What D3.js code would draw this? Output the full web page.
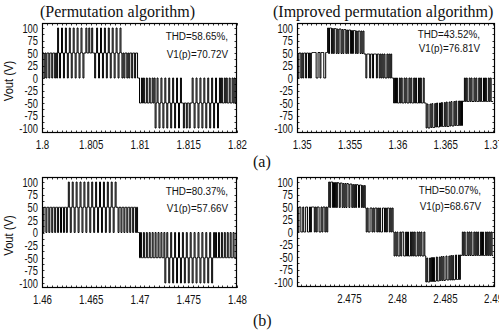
<!DOCTYPE html>
<html><head><meta charset="utf-8">
<script src="https://cdn.jsdelivr.net/npm/d3@7"></script>
<style>body{margin:0;background:#fff}svg{display:block}</style>
</head><body>
<svg id="c" width="499" height="330"></svg>
<script>
// ---------------- data ----------------
const sampleStep = 0.0001;               // s per sample
const yDomain = [-110, 110];
const yTicks = [100, 75, 50, 25, 0, -25, -50, -75, -100];

const titles = ["(Permutation algorithm)", "(Improved permutation algorithm)"];
const rowLabels = ["(a)", "(b)"];
const yLabel = "Vout (V)";

const p1Start = 1.8;
const p1Domain = [1.8, 1.82];
const p1XTicks = [1.8, 1.805, 1.81, 1.815, 1.82];
const p1Notes = ["THD=58.65%,", "V1(p)=70.72V"];
const p1Levels = [
  50,50,0,50,0,50,50,0,50,50,0,50,50,0,50,0,
  100,50,0,50,100,50,0,50,100,50,0,50,100,50,0,50,100,50,0,50,100,50,0,50,100,50,0,50,
  50,100,50,50,100,50,50,100,50,50,
  0,50,100,50,0,50,100,50,0,50,100,50,0,50,100,50,0,50,100,50,0,50,100,50,0,50,100,50,0,
  50,0,50,50,0,50,0,50,50,0,50,50,0,50,50,0,0,
  -50,-50,0,-50,0,-50,-50,0,-50,-50,0,-50,-50,0,-50,0,
  -100,-50,0,-50,-100,-50,0,-50,-100,-50,0,-50,-100,-50,0,-50,-100,-50,0,-50,-100,-50,0,-50,-100,-50,0,-50,
  -50,-100,-50,-50,-100,-50,-50,-100,-50,-50,
  0,-50,-100,-50,0,-50,-100,-50,0,-50,-100,-50,0,-50,-100,-50,0,-50,-100,-50,0,-50,-100,-50,0,-50,-100,-50,0,-50,
  0,-50,-50,0,-50,0,-50,-50,0,-50,-50,0,-50,0,-50,0
];

const p2Start = 1.3495;
const p2Domain = [1.3495, 1.3702];
const p2XTicks = [1.35, 1.355, 1.36, 1.365, 1.37];
const p2Notes = ["THD=43.52%,", "V1(p)=76.81V"];
const p2Levels = [
  50,0,50,50,0,50,0,50,50,0,50,50,0,50,0,50,
  51,51,51,51,
  0,0,51,51,0,51,51,51,0,0,51,51,
  100,49,100,100,49,99,49,99,99,49,98,49,98,98,49,97,49,97,97,49,96,49,96,96,49,95,49,95,95,49,94,49,94,94,49,94,49,94,
  48,48,0,48,48,48,0,48,48,0,48,48,48,0,48,48,0,48,0,48,0,48,0,0,48,0,48,0,48,0,0,
  -50,0,-50,0,-50,-50,0,-50,0,-50,-50,0,-50,0,-50,-50,0,-50,0,-50,-50,0,-50,0,-50,-50,0,-50,0,-50,-50,0,-50,-50,
  -100,-52,-100,-100,-52,-99,-51,-99,-99,-51,-98,-50,-98,-98,-50,-97,-49,-97,-97,-49,-97,-48,-97,-97,-48,-96,-47,-96,-96,-47,-95,-46,-95,-95,-46,-95,-46,-95,-46,
  -47,0,-47,0,-47,-47,0,-47,0,-47,-47,0,-47,0,-47,-47,0,-47,0,-47,-47,0,-47,0,-47,-47,0,-47,0,-47,-47
];

const p3Start = 1.46;
const p3Domain = [1.46, 1.48];
const p3XTicks = [1.46, 1.465, 1.47, 1.475, 1.48];
const p3Notes = ["THD=80.37%,", "V1(p)=57.66V"];
const p3Levels = [
  50,0,50,50,0,50,50,0,50,50,0,50,50,0,50,50,0,50,50,0,50,50,0,50,50,0,50,
  100,50,0,50,100,50,0,50,100,50,0,50,100,50,0,50,100,50,0,50,100,50,0,50,
  100,50,0,50,100,50,0,50,100,50,0,50,100,50,0,50,100,50,0,50,100,50,0,50,100,50,
  50,0,50,50,0,50,50,0,50,50,0,50,50,0,50,50,0,50,50,0,50,0,0,
  -50,0,-50,-50,0,-50,-50,0,-50,-50,0,-50,-50,0,-50,-50,0,-50,-50,0,-50,-50,0,-50,-50,0,
  -100,-50,0,-50,-100,-50,0,-50,-100,-50,0,-50,-100,-50,0,-50,-100,-50,0,-50,-100,-50,0,-50,
  -100,-50,0,-50,-100,-50,0,-50,-100,-50,0,-50,-100,-50,0,-50,-100,-50,0,-50,-100,-50,0,-50,-100,-50,0,
  -50,0,-50,-50,0,-50,-50,0,-50,-50,0,-50,-50,0,-50,-50,0,-50,-50,0,-50,-50,0
];

const p4Start = 2.4696;
const p4Domain = [2.4696, 2.4902];
const p4XTicks = [2.475, 2.48, 2.485, 2.49];
const p4Notes = ["THD=50.07%,", "V1(p)=68.67V"];
const p4Levels = [
  50,0,50,50,0,0,50,0,0,50,50,0,0,50,0,50,50,50,0,50,0,50,50,0,0,50,0,50,50,0,50,0,50,
  100,49,100,100,49,99,49,99,49,99,98,49,98,98,49,97,49,97,49,97,96,49,96,96,49,95,49,95,49,95,94,49,94,94,49,93,49,93,
  48,0,48,0,0,48,48,0,48,0,48,48,0,48,0,48,0,0,48,48,0,48,0,48,48,0,48,0,48,0,
  -48,0,-48,0,-48,-48,0,-48,0,0,-48,-48,0,-48,0,-48,-48,0,-48,0,-48,0,-48,-48,0,-48,0,-48,0,-48,-48,0,-48,
  -100,-52,-100,-100,-52,-99,-51,-99,-51,-99,-98,-50,-98,-98,-50,-97,-49,-97,-49,-97,-96,-48,-96,-96,-48,-96,-47,-96,-47,-96,-95,-46,-95,-95,-46,-95,-46,
  -47,0,-47,0,-47,-47,0,-47,0,-47,0,-47,-47,0,-47,0,-47,0,-47,-47,0,-47,0,-47,-47,0,-47,0,-47,0,-47,0,-47
];

// ---------------- layout ----------------
const SANS = "'Liberation Sans', Arial, Helvetica, sans-serif";
const SERIF = "'Liberation Serif', 'Times New Roman', Times, serif";
const SX = 0.78;   // horizontal squeeze of sans text

const panels = [
  {levels:p1Levels, start:p1Start, domain:p1Domain, xt:p1XTicks, notes:p1Notes,
   x0:42, x1:237, y0:23, y1:133, noteX:228, noteY:[39.5, 58], ylab:true},
  {levels:p2Levels, start:p2Start, domain:p2Domain, xt:p2XTicks, notes:p2Notes,
   x0:297, x1:495, y0:23, y1:133, noteX:480, noteY:[38, 51.5], ylab:false},
  {levels:p3Levels, start:p3Start, domain:p3Domain, xt:p3XTicks, notes:p3Notes,
   x0:42, x1:237, y0:177, y1:288, noteX:228, noteY:[195, 212], ylab:true},
  {levels:p4Levels, start:p4Start, domain:p4Domain, xt:p4XTicks, notes:p4Notes,
   x0:297, x1:495, y0:177, y1:287, noteX:481, noteY:[194, 209.5], ylab:false}
];

const svg = d3.select("#c");
const defs = svg.append("defs");

panels.forEach((p, k) => {
  const x = d3.scaleLinear().domain(p.domain).range([p.x0, p.x1]);
  const y = d3.scaleLinear().domain(yDomain).range([p.y1, p.y0]);

  defs.append("clipPath").attr("id", "clip" + k)
    .append("rect").attr("x", p.x0).attr("y", p.y0)
    .attr("width", p.x1 - p.x0).attr("height", p.y1 - p.y0);

  // waveform
  const pts = p.levels.map((v, i) => [p.start + i * sampleStep, v]);
  pts.push([p.start + p.levels.length * sampleStep, p.levels[p.levels.length - 1]]);
  const line = d3.line().x(d => x(d[0])).y(d => y(d[1])).curve(d3.curveStepAfter);
  svg.append("path").attr("clip-path", `url(#clip${k})`)
    .attr("d", line(pts)).attr("fill", "none")
    .attr("stroke", "#000").attr("stroke-width", 1.0);

  // frame
  svg.append("rect").attr("x", p.x0 + 0.5).attr("y", p.y0 + 0.5)
    .attr("width", p.x1 - p.x0 - 1).attr("height", p.y1 - p.y0 - 1)
    .attr("fill", "none").attr("stroke", "#000").attr("stroke-width", 1.2);

  // minor inward ticks
  const tg = svg.append("g").attr("stroke", "#000").attr("stroke-width", 0.8);
  const xMinor = d3.range(Math.ceil(p.domain[0] / 0.0005) * 0.0005, p.domain[1] + 1e-9, 0.0005);
  xMinor.forEach(t => {
    const xx = Math.round(x(t)) + 0.5;
    tg.append("line").attr("x1", xx).attr("x2", xx).attr("y1", p.y0).attr("y2", p.y0 + 2.5);
    tg.append("line").attr("x1", xx).attr("x2", xx).attr("y1", p.y1).attr("y2", p.y1 - 2.5);
  });
  d3.range(-100, 100.1, 12.5).forEach(v => {
    const yy = Math.round(y(v)) + 0.5;
    tg.append("line").attr("x1", p.x0).attr("x2", p.x0 + 2.5).attr("y1", yy).attr("y2", yy);
    tg.append("line").attr("x1", p.x1).attr("x2", p.x1 - 2.5).attr("y1", yy).attr("y2", yy);
  });

  // axes (labels)
  const ay = svg.append("g").attr("transform", `translate(${p.x0},0)`)
    .call(d3.axisLeft(y).tickValues(yTicks).tickSize(0).tickFormat(d => String(d)));
  ay.select(".domain").remove();
  ay.selectAll("text").attr("x", 0).attr("dy", "0.36em")
    .attr("transform", `translate(-4,0) scale(${SX},1)`)
    .attr("font-family", SANS).attr("font-size", 12).attr("fill", "#111");

  const ax = svg.append("g").attr("transform", `translate(0,${p.y1})`)
    .call(d3.axisBottom(x).tickValues(p.xt).tickSize(0).tickFormat(d => String(d)));
  ax.select(".domain").remove();
  ax.selectAll("text").attr("y", 0).attr("dy", 0)
    .attr("transform", `translate(0,16) scale(${SX},1)`)
    .attr("font-family", SANS).attr("font-size", 12.5).attr("fill", "#111");

  // annotations
  p.notes.forEach((s, j) => {
    svg.append("text").text(s)
      .attr("text-anchor", "end")
      .attr("transform", `translate(${p.noteX},${p.noteY[j]}) scale(0.86,1)`)
      .attr("font-family", SANS).attr("font-size", 11.5).attr("fill", "#111");
  });

  if (p.ylab) {
    svg.append("text").text(yLabel)
      .attr("text-anchor", "middle")
      .attr("transform", `translate(12.5,${(p.y0 + p.y1) / 2 + 3}) rotate(-90) scale(0.86,1)`)
      .attr("font-family", SANS).attr("font-size", 13).attr("fill", "#111");
  }
});

// titles
svg.append("text").text(titles[0]).attr("x", 40).attr("y", 17)
  .attr("font-family", SERIF).attr("font-size", 16).attr("fill", "#111");
svg.append("text").text(titles[1]).attr("x", 273).attr("y", 17)
  .attr("font-family", SERIF).attr("font-size", 16).attr("fill", "#111");
// row labels
svg.append("text").text(rowLabels[0]).attr("x", 253).attr("y", 167)
  .attr("font-family", SERIF).attr("font-size", 16).attr("fill", "#111");
svg.append("text").text(rowLabels[1]).attr("x", 253).attr("y", 326)
  .attr("font-family", SERIF).attr("font-size", 16).attr("fill", "#111");
</script>
</body></html>
